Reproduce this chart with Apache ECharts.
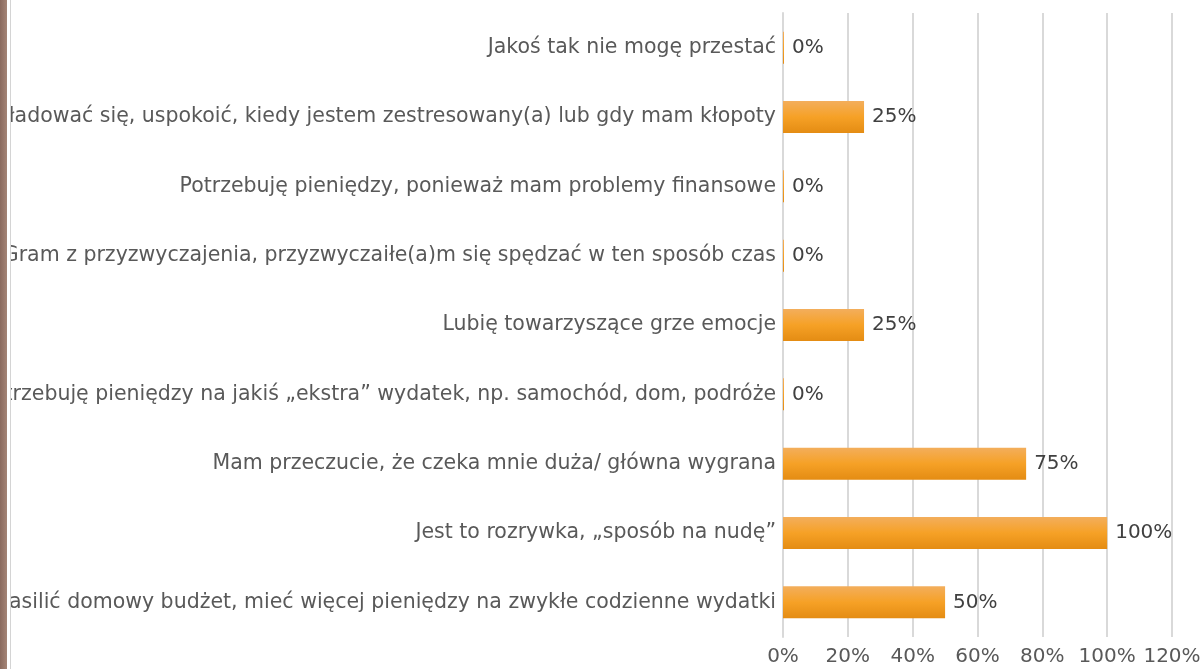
<!DOCTYPE html>
<html>
<head>
<meta charset="utf-8">
<script src="https://cdn.jsdelivr.net/npm/echarts@6/dist/echarts.min.js"></script>
<style>
html,body{margin:0;padding:0;background:#fff;width:1203px;height:669px;overflow:hidden;}
#edge{position:absolute;left:0;top:0;width:7px;height:669px;background:linear-gradient(to right,#8a6a5e,#a58577);}
#line{position:absolute;left:10px;top:0;width:1px;height:669px;background:#d4d4d4;}
#chart{position:absolute;left:11px;top:0;width:1192px;height:669px;}
</style>
</head>
<body>
<div id="edge"></div>
<div id="line"></div>
<div id="chart"></div>
<script>
const categories = [
  "Jakoś tak nie mogę przestać",
  "Chcę rozładować się, uspokoić, kiedy jestem zestresowany(a) lub gdy mam kłopoty",
  "Potrzebuję pieniędzy, ponieważ mam problemy finansowe",
  "Gram z przyzwyczajenia, przyzwyczaiłe(a)m się spędzać w ten sposób czas",
  "Lubię towarzyszące grze emocje",
  "Potrzebuję pieniędzy na jakiś „ekstra” wydatek, np. samochód, dom, podróże",
  "Mam przeczucie, że czeka mnie duża/ główna wygrana",
  "Jest to rozrywka, „sposób na nudę”",
  "Chcę zasilić domowy budżet, mieć więcej pieniędzy na zwykłe codzienne wydatki"
];
const values = [0, 25, 0, 0, 25, 0, 75, 100, 50];
const axisMin = 0, axisMax = 120, axisStep = 20;

const chart = echarts.init(document.getElementById('chart'), null, {renderer: 'canvas'});
chart.setOption({
  animation: false,
  backgroundColor: '#fff',
  textStyle: {fontFamily: 'DejaVu Sans'},
  grid: {left: 772, right: 31, top: 13, bottom: 32, containLabel: false, outerBoundsMode: 'none'},
  xAxis: {
    type: 'value', min: axisMin, max: axisMax, interval: axisStep,
    axisLine: {show: false}, axisTick: {show: false},
    splitLine: {lineStyle: {color: '#d9d9d9', width: 2}},
    axisLabel: {formatter: '{value}%', color: '#595959', fontSize: 20, fontFamily: 'DejaVu Sans', margin: 10}
  },
  yAxis: {
    type: 'category', data: categories, inverse: true,
    axisLine: {show: true, lineStyle: {color: '#d9d9d9', width: 2}},
    axisTick: {show: false},
    axisLabel: {color: '#595959', fontSize: 20.5, fontFamily: 'DejaVu Sans', margin: 7, interval: 0}
  },
  series: [{
    type: 'bar', data: values, barWidth: 32, barMinHeight: 1,
    itemStyle: {color: new echarts.graphic.LinearGradient(0, 0, 0, 1, [
      {offset: 0, color: '#f3ae5c'}, {offset: 0.5, color: '#f6a126'}, {offset: 1, color: '#e48c13'}
    ])},
    label: {show: true, position: 'right', distance: 8, formatter: '{c}%', color: '#404040', fontSize: 20, fontFamily: 'DejaVu Sans'}
  }]
});
</script>
</body>
</html>
